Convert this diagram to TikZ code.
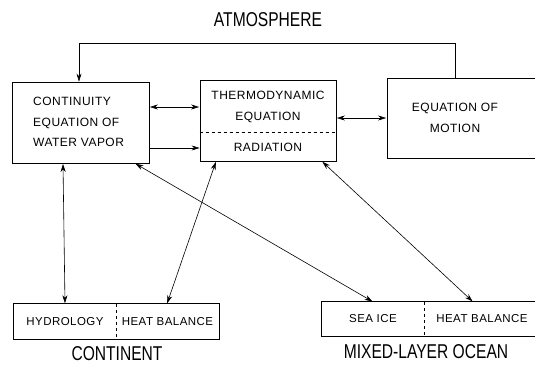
\documentclass[tikz,border=0pt]{standalone}
\usepackage{fontspec}
\setmainfont{Liberation Sans}
\newfontfamily\titlefont[FakeStretch=0.78]{Liberation Sans}
\newfontfamily\boxfont[LetterSpace=4]{Liberation Sans}
\usepackage{tikz}
\usetikzlibrary{arrows,arrows.meta,positioning}

\begin{document}
\begin{tikzpicture}[x=1pt,y=-1pt,>={Stealth[length=8pt,width=5pt,inset=2.5pt]}]

\tikzset{box/.style={draw, line width=0.8pt, inner sep=0pt},
         txt/.style={align=center, font=\boxfont\fontsize{12}{20.5}\selectfont, inner sep=0pt},
         small/.style={font=\boxfont\fontsize{11.5}{12}\selectfont, inner sep=0pt},
         title/.style={font=\titlefont\fontsize{20}{22}\selectfont, inner sep=0pt},
         link/.style={<->, line width=0.6pt, shorten <=0.5pt, shorten >=0.5pt}}

\useasboundingbox (0,0) rectangle (535,367);

\node[title] (atmos) at (268,20) {ATMOSPHERE};

% atmosphere boxes
\node[box, minimum width=137pt, minimum height=81pt] (cont) at (80.5,122.5) {};
\node[txt, align=left, anchor=west] (conttxt) at (33,122) {CONTINUITY\\EQUATION OF\\WATER VAPOR};
\node[box, minimum width=136pt, minimum height=81pt] (thermo) at (268,120.5) {};
\node[txt] (thermotxt) at (268,107) {THERMODYNAMIC\\EQUATION};
\node[txt] (rad) at (268,147) {RADIATION};
\draw[dashed, line width=0.7pt] (thermo.west |- 0,132) -- (thermo.east |- 0,132);
\node[box, minimum width=158pt, minimum height=80pt] (motion) at (466,118) {};
\node[txt] (motiontxt) at (455,118) {EQUATION OF\\MOTION};

\draw[link] (cont.east |- 0,107) -- (thermo.west |- 0,107);
\draw[->, line width=0.6pt] (cont.east |- 0,148) -- (thermo.west |- 0,148);
\draw[link] (thermo.east |- 0,118) -- (motion.west |- 0,118);
\draw[->, line width=0.6pt] (motion.north -| 455,0) -- (455,43) -- (79,43) -- (cont.north -| 79,0);

% continent
\node[small, minimum width=102pt, minimum height=35pt] (hydro) at (65,321.5) {HYDROLOGY};
\node[small, minimum width=103pt, minimum height=35pt] (heatc) at (167.5,321.5) {HEAT BALANCE};
\draw[line width=0.8pt] (hydro.north west) rectangle (heatc.south east);
\draw[dashed, line width=0.7pt] (hydro.north east) -- (hydro.south east);
\node[title] (continent) at (117,354) {CONTINENT};

% ocean
\node[small, minimum width=102pt, minimum height=34pt] (seaice) at (373,319) {SEA ICE};
\node[small, minimum width=116pt, minimum height=34pt] (heato) at (482,319) {HEAT BALANCE};
\draw[line width=0.8pt] (seaice.north west) rectangle (heato.south east);
\draw[dashed, line width=0.7pt] (seaice.north east) -- (seaice.south east);
\node[title] (ocean) at (426,352) {MIXED-LAYER OCEAN};

\draw[link] (cont.south -| 63,0) -- (hydro.north);
\draw[link] (cont.south -| 135,0) -- (seaice.north);
\draw[link] (thermo.south -| 216,0) -- (heatc.north -| 167,0);
\draw[link] (thermo.south -| 322,0) -- (heato.north -| 473,0);

\end{tikzpicture}
\end{document}
